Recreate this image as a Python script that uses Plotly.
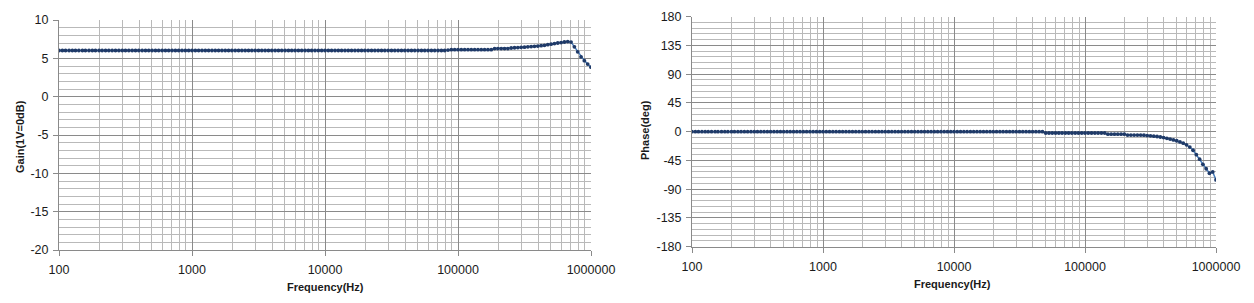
import plotly.graph_objects as go

# ---- data ----
freq_hz = [
    100, 106, 112, 119, 126, 133, 141, 150, 158, 168, 178, 188, 200, 211, 224, 237, 251, 266, 282, 299,
    316, 335, 355, 376, 398, 422, 447, 473, 501, 531, 562, 596, 631, 668, 708, 750, 794, 841, 891, 944,
    1000, 1059, 1122, 1189, 1259, 1334, 1413, 1496, 1585, 1679, 1778, 1884, 1995, 2113, 2239, 2371, 2512, 2661, 2818, 2985,
    3162, 3350, 3548, 3758, 3981, 4217, 4467, 4732, 5012, 5309, 5623, 5957, 6310, 6683, 7079, 7499, 7943, 8414, 8913, 9441,
    10000, 10590, 11220, 11890, 12590, 13340, 14130, 14960, 15850, 16790, 17780, 18840, 19950, 21130, 22390, 23710, 25120, 26610, 28180, 29850,
    31620, 33500, 35480, 37580, 39810, 42170, 44670, 47320, 50120, 53090, 56230, 59570, 63100, 66830, 70790, 74990, 79430, 84140, 89130, 94410,
    100000, 105900, 112200, 118900, 125900, 133400, 141300, 149600, 158500, 167900, 177800, 188400, 199500, 211300, 223900, 237100, 251200, 266100, 281800, 298500,
    316200, 335000, 354800, 375800, 398100, 421700, 446700, 473200, 501200, 530900, 562300, 595700, 631000, 668300, 707900, 749900, 794300, 841400, 891300, 944100,
    1000000,
]

gain_db = [
    6.02, 6.02, 6.02, 6.02, 6.02, 6.02, 6.02, 6.02, 6.02, 6.02, 6.02, 6.02, 6.02, 6.02, 6.02, 6.02, 6.02, 6.02, 6.02, 6.02,
    6.02, 6.02, 6.02, 6.02, 6.02, 6.02, 6.02, 6.02, 6.02, 6.02, 6.02, 6.02, 6.02, 6.02, 6.02, 6.02, 6.02, 6.02, 6.02, 6.02,
    6.02, 6.02, 6.02, 6.02, 6.02, 6.02, 6.02, 6.02, 6.02, 6.02, 6.02, 6.02, 6.02, 6.02, 6.02, 6.02, 6.02, 6.02, 6.02, 6.02,
    6.02, 6.02, 6.02, 6.02, 6.02, 6.02, 6.02, 6.02, 6.02, 6.02, 6.02, 6.02, 6.02, 6.02, 6.02, 6.02, 6.02, 6.02, 6.02, 6.02,
    6.02, 6.02, 6.02, 6.02, 6.02, 6.02, 6.02, 6.02, 6.02, 6.02, 6.02, 6.02, 6.02, 6.02, 6.02, 6.02, 6.02, 6.02, 6.02, 6.02,
    6.02, 6.02, 6.02, 6.02, 6.02, 6.02, 6.02, 6.02, 6.02, 6.02, 6.02, 6.02, 6.02, 6.02, 6.02, 6.02, 6.02, 6.08, 6.13, 6.13,
    6.13, 6.13, 6.13, 6.13, 6.13, 6.13, 6.13, 6.13, 6.13, 6.13, 6.13, 6.27, 6.27, 6.27, 6.27, 6.27, 6.35, 6.38, 6.40, 6.43,
    6.46, 6.50, 6.53, 6.56, 6.60, 6.65, 6.70, 6.78, 6.85, 6.92, 7.00, 7.06, 7.13, 7.18, 7.12, 6.50, 5.85, 5.20, 4.70, 4.25,
    3.85,
]

phase_deg = [
    0.0, 0.0, 0.0, 0.0, 0.0, 0.0, 0.0, 0.0, 0.0, 0.0, 0.0, 0.0, 0.0, 0.0, 0.0, 0.0, 0.0, 0.0, 0.0, 0.0,
    0.0, 0.0, 0.0, 0.0, 0.0, 0.0, 0.0, 0.0, 0.0, 0.0, 0.0, 0.0, 0.0, 0.0, 0.0, 0.0, 0.0, 0.0, 0.0, 0.0,
    0.0, 0.0, 0.0, 0.0, 0.0, 0.0, 0.0, 0.0, 0.0, 0.0, 0.0, 0.0, 0.0, 0.0, 0.0, 0.0, 0.0, 0.0, 0.0, 0.0,
    0.0, 0.0, 0.0, 0.0, 0.0, 0.0, 0.0, 0.0, 0.0, 0.0, 0.0, 0.0, 0.0, 0.0, 0.0, 0.0, 0.0, 0.0, 0.0, 0.0,
    0.0, 0.0, 0.0, 0.0, 0.0, 0.0, 0.0, 0.0, 0.0, 0.0, 0.0, 0.0, 0.0, 0.0, 0.0, 0.0, 0.0, 0.0, 0.0, 0.0,
    0.0, 0.0, 0.0, 0.0, 0.0, 0.0, 0.0, 0.0, -2.0, -2.0, -2.0, -2.0, -2.0, -2.0, -2.0, -2.0, -2.0, -2.0, -2.0, -2.0,
    -2.0, -2.0, -2.0, -2.0, -2.0, -2.0, -2.0, -3.8, -3.8, -3.8, -3.8, -3.8, -3.8, -5.3, -5.3, -5.3, -5.3, -5.3,
    -5.5, -6.0, -6.5, -7.0, -7.5, -8.3, -9.2, -10.3, -11.5, -12.8, -14.2, -16.0, -18.0, -20.5, -24.0, -29.0,
    -36.0, -43.0, -51.0, -58.0, -65.0, -63.0, -75.5,
]

gain_ticks = [-20, -15, -10, -5, 0, 5, 10]
phase_ticks = [-180, -135, -90, -45, 0, 45, 90, 135, 180]
freq_ticks = [100, 1000, 10000, 100000, 1000000]

W, H = 1254, 303
MAJOR = "#8a8a8a"
MINOR = "#b9b9b9"
LINE_C = "#4a7ebb"
MARK_C = "#1f3a68"
FONT = "Liberation Sans"
TICK_FONT = dict(family=FONT, size=12.5, color="#1a1a1a")

fig = go.Figure()
fig.add_trace(go.Scatter(x=freq_hz, y=gain_db, mode="lines+markers", xaxis="x", yaxis="y",
                         line=dict(color=LINE_C, width=1.5),
                         marker=dict(color=MARK_C, size=3.8, symbol="circle"),
                         showlegend=False))
fig.add_trace(go.Scatter(x=freq_hz, y=phase_deg, mode="lines+markers", xaxis="x2", yaxis="y2",
                         line=dict(color=LINE_C, width=1.5),
                         marker=dict(color=MARK_C, size=3.8, symbol="circle"),
                         showlegend=False))

def xax(domain, anchor):
    return dict(domain=domain, anchor=anchor, type="log", range=[2, 6],
                tickvals=freq_ticks, ticktext=[str(v) for v in freq_ticks],
                showgrid=True, gridcolor=MAJOR, gridwidth=1,
                minor=dict(dtick="D1", showgrid=True, gridcolor=MINOR, gridwidth=1,
                           ticks=""),
                showline=True, linecolor=MAJOR, linewidth=1,
                ticks="outside", ticklen=5, tickcolor=MAJOR,
                tickfont=TICK_FONT, automargin=False, ticklabelstandoff=3,
                zeroline=False, fixedrange=True)

def yax(domain, anchor, rng, mdt, vals):
    return dict(domain=domain, anchor=anchor, range=rng,
                tickvals=vals, ticktext=[str(v) for v in vals],
                showgrid=True, gridcolor=MAJOR, gridwidth=1,
                minor=dict(dtick=mdt, tick0=0, showgrid=True, gridcolor=MINOR, gridwidth=1, ticks=""),
                showline=True, linecolor=MAJOR, linewidth=1,
                ticks="outside", ticklen=5, tickcolor=MAJOR,
                tickfont=TICK_FONT, automargin=False, ticklabelstandoff=2,
                zeroline=False, fixedrange=True)

fig.update_layout(
    width=W, height=H,
    margin=dict(l=0, r=0, t=0, b=0, autoexpand=False),
    paper_bgcolor="white", plot_bgcolor="white",
    xaxis=xax([59 / W, 591 / W], "y"),
    yaxis=yax([(H - 250) / H, (H - 20) / H], "x", [-20, 10], 1, gain_ticks),
    xaxis2=xax([692 / W, 1216 / W], "y2"),
    yaxis2=yax([(H - 246.7) / H, (H - 16.7) / H], "x2", [-180, 180], 9, phase_ticks),
)

title_font = dict(family=FONT, size=11, color="#1a1a1a")
fig.add_annotation(text="<b>Gain(1V=0dB)</b>", x=20 / W, y=(H - 137) / H, xref="paper", yref="paper",
                   textangle=-90, showarrow=False, font=title_font, xanchor="center", yanchor="middle")
fig.add_annotation(text="<b>Phase(deg)</b>", x=645 / W, y=(H - 130) / H, xref="paper", yref="paper",
                   textangle=-90, showarrow=False, font=title_font, xanchor="center", yanchor="middle")
fig.add_annotation(text="<b>Frequency(Hz)</b>", x=325 / W, y=(H - 287) / H, xref="paper", yref="paper",
                   showarrow=False, font=title_font, xanchor="center", yanchor="middle")
fig.add_annotation(text="<b>Frequency(Hz)</b>", x=953 / W, y=(H - 283.5) / H, xref="paper", yref="paper",
                   showarrow=False, font=title_font, xanchor="center", yanchor="middle")

fig.write_html("out.html")
